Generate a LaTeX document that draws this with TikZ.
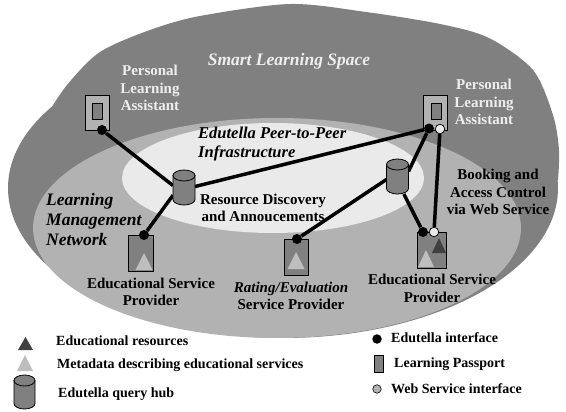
\documentclass[tikz,border=0pt]{standalone}
\usepackage{fontspec}
\setmainfont{Liberation Serif}
\usetikzlibrary{backgrounds}
\definecolor{dark}{HTML}{808080}
\definecolor{lite}{HTML}{B2B2B2}
\definecolor{pale}{HTML}{EAEAEA}
\definecolor{wtxt}{HTML}{EEEEEE}
\tikzset{
 x=1pt,y=-1pt,
 lbl/.style={font=\fontsize{15}{17.5}\selectfont\bfseries,align=center,inner sep=0pt},
 leg/.style={font=\fontsize{14}{16}\selectfont\bfseries,inner sep=0pt,anchor=west},
 wlbl/.style={lbl,text=wtxt},
 ilbl/.style={font=\fontsize{16.5}{18.5}\selectfont\bfseries\itshape,align=left,inner sep=0pt},
 link/.style={line width=3.5pt,black},
 ifc/.style={circle,fill=black,inner sep=0pt,minimum size=10pt},
 wsi/.style={circle,draw=black,fill=pale,line width=.7pt,inner sep=0pt,minimum size=9.5pt},
 hubbox/.style={inner sep=0pt,outer sep=0pt,minimum width=22pt,minimum height=35pt},
 hubfill/.style={draw=black,line width=.8pt,fill=dark},
 passp/.style={draw=black,fill=dark,line width=.8pt,inner sep=0pt},
 pda/.style={draw=black,fill=lite,line width=.8pt,minimum width=24pt,minimum height=35pt,inner sep=0pt},
 pdain/.style={draw=black,fill=dark,line width=.8pt,minimum width=10pt,minimum height=16pt,inner sep=0pt},
 tmeta/.style={fill=lite!85!white},
 tres/.style={fill=black!75},
}
\newcommand{\tri}[5]{\path[#5] (#1,#2) -- (#1-#3,#2+#4) -- (#1+#3,#2+#4) -- cycle;}
% name, x, y, half width, half height
\newcommand{\hubat}[5]{%
 \node[hubbox,minimum width=2*#4pt,minimum height=2*#5pt] (#1) at (#2,#3) {};
 \path[hubfill] (#1.north west) ++(0,5.5) -- ++(0,2*#5-11) arc[start angle=180,end angle=0,x radius=#4,y radius=5.5] -- ++(0,-2*#5+11) -- cycle;
 \path[hubfill] (#2,#3-#5+5.5) ellipse[x radius=#4,y radius=5.5];}
\begin{document}
\begin{tikzpicture}
\useasboundingbox (0,0) rectangle (566,412);
\begin{pgfonlayer}{background}
\fill[white] (0,0) rectangle (566,412);
\fill[dark] plot[smooth] coordinates {(45,118) (67,85) (100,52) (150,30) (200,16) (290,4) (366,12) (440,24) (489,38) (533,70) (553,115) (559,150) (558,180)} -- (300,200) -- cycle;
\fill[dark] (283,188) ellipse[x radius=275,y radius=150];
\fill[lite] (277,228) ellipse[x radius=244,y radius=110];
\fill[pale] (273,178) ellipse[x radius=151,y radius=55];
\end{pgfonlayer}
% nodes
\node[pda] (pa) at (97,112.5) {};
\node[pdain] (pai) at (97,111) {};
\node[pda] (pb) at (435.5,113) {};
\node[pdain] (pbi) at (436,111) {};
\node[passp,minimum width=25pt,minimum height=36pt] (ea) at (140.5,253) {};
\node[passp,minimum width=24pt,minimum height=36pt] (eb) at (296,257) {};
\node[passp,minimum width=29pt,minimum height=36pt] (ec) at (431.5,250) {};
\tri{144}{253}{8.5}{17}{tmeta}
\tri{296}{252}{8.5}{17}{tmeta}
\tri{426}{250}{8}{17}{tmeta}
\tri{439}{238}{7}{15}{tres}
\hubat{hl}{184}{187.5}{11}{17.5}
\hubat{hr}{397.5}{176.5}{11}{17.5}
\node[ifc] (ipa) at (102,130) {};
\node[ifc] (ipb) at (429,128.5) {};
\node[wsi] (wpb) at (440,129) {};
\node[ifc] (iea) at (144,235) {};
\node[ifc] (ieb) at (297,239) {};
\node[ifc] (iec) at (423,232) {};
\node[wsi] (wec) at (434,232) {};
\begin{pgfonlayer}{background}
\draw[link] (ipa) -- (hl.170);
\draw[link] (hl.5) -- (ipb);
\draw[link] (hr.25) -- (ipb);
\draw[link] (wpb) -- (wec);
\draw[link] (hl.215) -- (iea);
\draw[link] (ieb) -- (hr.195);
\draw[link] (hr.290) -- (iec);
\end{pgfonlayer}
% labels
\node[wlbl] (t1) at (150,88) {Personal\\Learning\\Assistant};
\node[wlbl] (t2) at (484,102) {Personal\\Learning\\Assistant};
\node[font=\fontsize{17.5}{20}\selectfont\bfseries\itshape,text=wtxt,inner sep=0pt] (t3) at (289,61) {Smart Learning Space};
\node[ilbl,anchor=west] (t4) at (198,144) {Edutella Peer-to-Peer\\Infrastructure};
\node[font=\fontsize{17.5}{20}\selectfont\bfseries\itshape,align=left,inner sep=0pt,anchor=west] (t5) at (46,220) {Learning\\Management\\Network};
\node[lbl] (t6) at (263,208) {Resource Discovery\\and Annoucements};
\node[lbl] (t7) at (498,192) {Booking and\\Access Control\\via Web Service};
\node[lbl] (t8) at (151,292) {Educational Service\\Provider};
\node[lbl] (t9) at (291,296) {\textit{Rating/Evaluation}\\Service Provider};
\node[lbl] (t10) at (432,288.5) {Educational Service\\Provider};
% legend
\tri{25.5}{337}{7.5}{13}{tres}
\tri{25}{355}{8}{16}{tmeta}
\hubat{lh}{24.5}{392}{10.5}{17}
\node[leg] (l1) at (56,341) {Educational resources};
\node[leg] (l2) at (57,365) {Metadata describing educational services};
\node[leg] (l3) at (58,394) {Edutella query hub};
\node[ifc,minimum size=9.5pt] (l4) at (377,339) {};
\node[leg] (l5) at (391,338) {Edutella interface};
\node[passp,minimum width=9pt,minimum height=17pt] (l6) at (378.5,363.5) {};
\node[leg] (l7) at (394,364) {Learning Passport};
\node[draw=black,fill=lite,circle,line width=.6pt,minimum size=8.5pt,inner sep=0pt] (l8) at (377,389) {};
\node[leg] (l9) at (391,389) {Web Service interface};
\end{tikzpicture}
\end{document}
